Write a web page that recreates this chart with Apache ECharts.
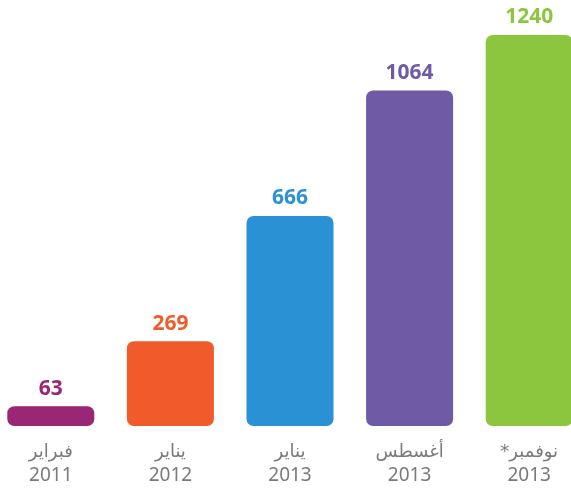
<!DOCTYPE html>
<html>
<head>
<meta charset="utf-8">
<script src="https://cdn.jsdelivr.net/npm/echarts@6/dist/echarts.min.js"></script>
<style>
	html, body { margin: 0; padding: 0; background: #fff; overflow: hidden; }
	#main { width: 598px; height: 490px; margin-left: -9px; }
</style>
</head>
<body>
<div id="main"></div>
<script>
var months = ["فبراير", "يناير", "يناير", "أغسطس", "*نوفمبر"];
var years = ["2011", "2012", "2013", "2013", "2013"];
var values = [63, 269, 666, 1064, 1240];
var colors = ["#9A2676", "#F15A2B", "#2A92D4", "#6F5AA6", "#8CC63F"];

var chartData = {
	init: function() {
		this.chart = echarts.init(document.getElementById('main'));
		this.chart.setOption(this.getOption());
	},
	getOption: function() {
		var data = [];
		for(var i = 0; i < values.length; i++) {
			data.push({
				value: values[i],
				itemStyle: { color: colors[i] },
				label: { color: colors[i] }
			})
		}
		return {
			animation: false,
			grid: {
				left: 0,
				right: 0,
				top: 35,
				bottom: 64
			},
			xAxis: [{
				type: 'category',
				data: months,
				axisLine: { show: false },
				axisTick: { show: false },
				axisLabel: {
					interval: 0,
					margin: 14,
					formatter: function(v, idx) {
						return '{m|' + v + '}\n{y|' + years[idx] + '}';
					},
					rich: {
						m: {
							fontFamily: 'DejaVu Sans',
							fontSize: 18,
							color: '#7a7a7a',
							lineHeight: 24
						},
						y: {
							fontFamily: 'Noto Sans',
							fontSize: 19,
							color: '#7a7a7a',
							lineHeight: 24
						}
					}
				}
			}],
			yAxis: [{
				type: 'value',
				min: 0,
				max: Math.max.apply(null, values),
				show: false,
				splitLine: { show: false }
			}],
			series: [{
				type: 'bar',
				barWidth: 87,
				data: data,
				itemStyle: {
					borderRadius: 7
				},
				label: {
					show: true,
					position: 'top',
					distance: 7,
					fontFamily: 'Noto Sans',
					fontWeight: 'bold',
					fontSize: 21
				}
			}]
		}
	}
}
chartData.init()
</script>
</body>
</html>
